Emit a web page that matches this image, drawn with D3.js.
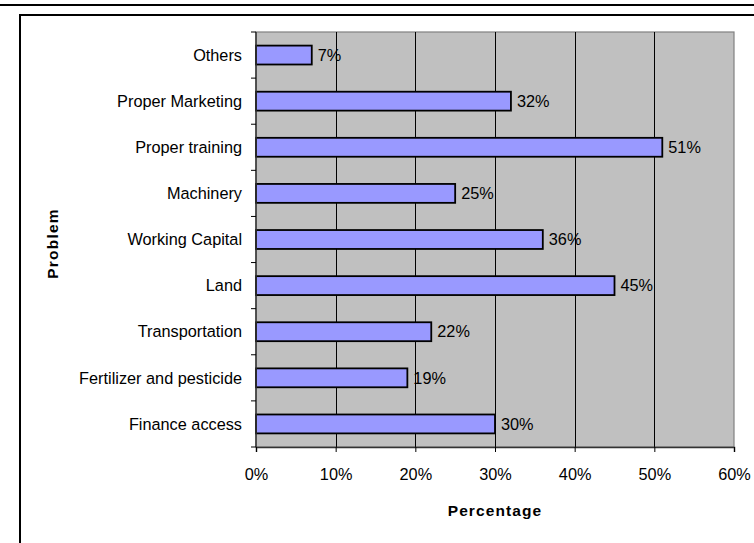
<!DOCTYPE html>
<html>
<head>
<meta charset="utf-8">
<script src="https://cdn.jsdelivr.net/npm/d3@7"></script>
<style>
  html, body { margin: 0; padding: 0; background: #fff; }
  svg { display: block; }
  text { font-family: "Liberation Sans", Arial, sans-serif; fill: #000; }
</style>
</head>
<body>
<svg id="chart" width="754" height="543"></svg>
<script>
// Problems reported, top to bottom as drawn
const categories = [
  "Others", "Proper Marketing", "Proper training", "Machinery",
  "Working Capital", "Land", "Transportation",
  "Fertilizer and pesticide", "Finance access"
];
const values = [7, 32, 51, 25, 36, 45, 22, 19, 30];
const xTicks = [0, 10, 20, 30, 40, 50, 60];
const xTitle = "Percentage";
const yTitle = "Problem";

const svg = d3.select("#chart");
const W = 754, H = 543;
const plot = { left: 256, right: 734, top: 32, bottom: 447 };
const FS = 16.3;

// Rule above the figure and the outer frame
svg.append("line").attr("x1", 0).attr("x2", W).attr("y1", 5).attr("y2", 5)
  .attr("stroke", "#000").attr("stroke-width", 2);
svg.append("path")
  .attr("d", `M20,${H + 2} L20,15 L${W + 2},15`)
  .attr("fill", "none").attr("stroke", "#000").attr("stroke-width", 2);

const x = d3.scaleLinear().domain([0, 60]).range([plot.left, plot.right]);
const y = d3.scaleBand().domain(categories).range([plot.top, plot.bottom]).paddingInner(0).paddingOuter(0);

// Plot background
svg.append("rect")
  .attr("x", plot.left).attr("y", plot.top)
  .attr("width", plot.right - plot.left).attr("height", plot.bottom - plot.top)
  .attr("fill", "#c0c0c0").attr("stroke", "#808080").attr("stroke-width", 1.2);

// Vertical gridlines
svg.append("g").selectAll("line")
  .data(xTicks.filter(t => t > 0 && t < 60))
  .join("line")
  .attr("x1", d => Math.round(x(d)) + 0.5).attr("x2", d => Math.round(x(d)) + 0.5)
  .attr("y1", plot.top).attr("y2", plot.bottom)
  .attr("stroke", "#000").attr("stroke-width", 1);

// Bars
const barH = y.bandwidth() * 0.41;
svg.append("g").selectAll("rect")
  .data(categories)
  .join("rect")
  .attr("x", x(0))
  .attr("y", (d) => y(d) + (y.bandwidth() - barH) / 2)
  .attr("width", (d, i) => x(values[i]) - x(0))
  .attr("height", barH)
  .attr("fill", "#9999ff")
  .attr("stroke", "#000").attr("stroke-width", 1.8);

// Value labels
svg.append("g").selectAll("text")
  .data(categories)
  .join("text")
  .attr("x", (d, i) => x(values[i]) + 6)
  .attr("y", d => y(d) + y.bandwidth() / 2)
  .attr("dy", "0.35em")
  .attr("font-size", FS)
  .text((d, i) => values[i] + "%");

// X axis
const xAxis = d3.axisBottom(x).tickValues(xTicks).tickSize(5)
  .tickFormat(d => d + "%");
const gx = svg.append("g").attr("transform", `translate(0,${plot.bottom})`).call(xAxis);
gx.select(".domain").attr("stroke", "#333").attr("stroke-width", 1.5);
gx.selectAll(".tick line").attr("stroke", "#000");
gx.selectAll(".tick text")
  .attr("y", 33).attr("dy", 0)
  .attr("font-size", FS).attr("font-family", "Liberation Sans, Arial, sans-serif").attr("fill", "#000");

// Y axis: ticks at category boundaries, labels centred in each band
const yb = d3.scaleLinear().domain([0, categories.length]).range([plot.top, plot.bottom]);
const gy = svg.append("g").attr("transform", `translate(${plot.left},0)`);
gy.append("line").attr("x1", 0).attr("x2", 0).attr("y1", plot.top).attr("y2", plot.bottom)
  .attr("stroke", "#333").attr("stroke-width", 1.5);
gy.selectAll("line.tk")
  .data(d3.range(categories.length + 1))
  .join("line").attr("class", "tk")
  .attr("x1", -5).attr("x2", 0)
  .attr("y1", d => yb(d)).attr("y2", d => yb(d))
  .attr("stroke", "#000");
gy.selectAll("text")
  .data(categories)
  .join("text")
  .attr("x", -14)
  .attr("y", d => y(d) + y.bandwidth() / 2)
  .attr("dy", "0.35em")
  .attr("text-anchor", "end")
  .attr("font-size", FS)
  .text(d => d);

// Axis titles
svg.append("text")
  .attr("x", (plot.left + plot.right) / 2).attr("y", 516)
  .attr("text-anchor", "middle").attr("font-size", 15.5).attr("font-weight", "bold")
  .attr("letter-spacing", "1.1px")
  .text(xTitle);
svg.append("text")
  .attr("transform", `translate(58,${(plot.top + plot.bottom) / 2 + 4}) rotate(-90)`)
  .attr("text-anchor", "middle").attr("font-size", 15.5).attr("font-weight", "bold")
  .attr("letter-spacing", "1.2px")
  .text(yTitle);
</script>
</body>
</html>
